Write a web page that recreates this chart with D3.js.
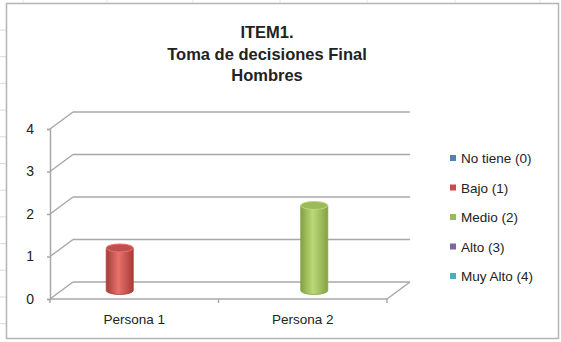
<!DOCTYPE html>
<html>
<head>
<meta charset="utf-8">
<script src="https://cdn.jsdelivr.net/npm/d3@7"></script>
<style>
  body { margin: 0; background: #fff; }
  text { font-family: "Liberation Sans", Arial, sans-serif; fill: #222; }
</style>
</head>
<body>
<div id="chart"></div>
<script>
// chart data
var categories = ["Persona 1", "Persona 2"];
var series = ["No tiene (0)", "Bajo (1)", "Medio (2)", "Alto (3)", "Muy Alto (4)"];
var persona1 = [0, 1, 0, 0, 0];
var persona2 = [0, 0, 2, 0, 0];
var yTicks = [0, 1, 2, 3, 4];
var titleLines = ["ITEM1.", "Toma de decisiones Final", "Hombres"];

var palette = ["#4F81BD", "#C0504D", "#9BBB59", "#8064A2", "#4BACC6"];
var light = ["#7fa6d8", "#e8716c", "#bcd97a", "#a58cc2", "#7fcbe0"];
var dark = ["#3a6496", "#a63c39", "#83a33f", "#654c85", "#3590a8"];

var svgWidth = 561;
var svgHeight = 342;

var svg = d3.select("#chart")
  .append("svg")
  .attr("width", svgWidth)
  .attr("height", svgHeight);

svg.append("rect")
  .attr("width", svgWidth)
  .attr("height", svgHeight)
  .attr("fill", "#fff");

// faint sheet cells around the chart frame
for (var gy = 30; gy < svgHeight; gy += 26.7) {
  svg.append("line")
    .attr("x1", 0).attr("x2", 6)
    .attr("y1", gy).attr("y2", gy)
    .attr("stroke", "#dadada");
}
[23, 107, 193, 280, 367, 455, 540].forEach(function(gx) {
  svg.append("line")
    .attr("x1", gx).attr("x2", gx)
    .attr("y1", 0).attr("y2", 3)
    .attr("stroke", "#e6e6e6");
});

// chart frame
svg.append("rect")
  .attr("x", 6.5).attr("y", 3.5)
  .attr("width", 552).attr("height", 335)
  .attr("fill", "#fff")
  .attr("stroke", "#b5b5b5")
  .attr("stroke-width", 1.5);

// title
svg.append("text")
  .attr("x", 267)
  .attr("y", 38)
  .attr("text-anchor", "middle")
  .style("font-size", "16.5px")
  .style("font-weight", "bold")
  .selectAll("tspan")
  .data(titleLines)
  .enter()
  .append("tspan")
  .attr("x", 267)
  .attr("dy", (d, i) => i === 0 ? 0 : 21.5)
  .text(d => d);

// 3D plot geometry: front plane and depth offset
var depthX = 23;
var depthY = -17;

var xScale = d3.scaleBand()
  .domain(categories)
  .range([50, 387]);

var xSeries = d3.scaleBand()
  .domain(series)
  .range([0, xScale.bandwidth()])
  .paddingInner(0)
  .paddingOuter(0.74);

var yScale = d3.scaleLinear()
  .domain([0, 4])
  .range([299, 129]);

var grid = svg.append("g")
  .attr("stroke", "#a8a8a8")
  .attr("stroke-width", 1.5)
  .attr("fill", "none");

// back wall gridlines
grid.selectAll(".back")
  .data(yTicks)
  .enter()
  .append("line")
  .attr("x1", 50 + depthX)
  .attr("x2", 387 + depthX)
  .attr("y1", d => yScale(d) + depthY)
  .attr("y2", d => yScale(d) + depthY);

// side wall gridlines
grid.selectAll(".side")
  .data(yTicks)
  .enter()
  .append("line")
  .attr("x1", 50)
  .attr("x2", 50 + depthX)
  .attr("y1", d => yScale(d))
  .attr("y2", d => yScale(d) + depthY);

// floor front edge and right edge
grid.append("line")
  .attr("x1", 50).attr("x2", 387)
  .attr("y1", yScale(0)).attr("y2", yScale(0));
grid.append("line")
  .attr("x1", 387).attr("x2", 387 + depthX)
  .attr("y1", yScale(0)).attr("y2", yScale(0) + depthY);

// category boundary ticks
var bounds = categories.map(c => xScale(c)).concat([xScale.range()[1]]);
grid.selectAll(".ctick")
  .data(bounds)
  .enter()
  .append("line")
  .attr("x1", d => d).attr("x2", d => d)
  .attr("y1", yScale(0)).attr("y2", yScale(0) + 4);

// value axis
var leftAxis = d3.axisLeft(yScale)
  .tickValues(yTicks)
  .tickFormat(d3.format("d"))
  .tickSize(3)
  .tickPadding(13);

var yAxisG = svg.append("g")
  .attr("transform", "translate(50,0)")
  .call(leftAxis);
yAxisG.select(".domain").attr("stroke", "#a8a8a8").attr("stroke-width", 1.5);
yAxisG.selectAll(".tick line").attr("stroke", "#a8a8a8").attr("stroke-width", 1.5);
yAxisG.selectAll(".tick text")
  .style("font-size", "14px")
  .style("font-family", "'Liberation Sans', Arial, sans-serif")
  .attr("fill", "#222");

// category axis labels
var bottomAxis = d3.axisBottom(xScale)
  .tickSize(0)
  .tickPadding(15);

var xAxisG = svg.append("g")
  .attr("transform", `translate(0, ${yScale(0)})`)
  .call(bottomAxis);
xAxisG.select(".domain").remove();
xAxisG.selectAll(".tick text")
  .style("font-size", "13.5px")
  .style("font-family", "'Liberation Sans', Arial, sans-serif")
  .attr("fill", "#222");

// gradients for cylinder bodies
var defs = svg.append("defs");
series.forEach(function(s, i) {
  var g = defs.append("linearGradient")
    .attr("id", "cyl" + i)
    .attr("x1", "0%").attr("x2", "100%")
    .attr("y1", "0%").attr("y2", "0%");
  g.append("stop").attr("offset", "0%").attr("stop-color", dark[i]);
  g.append("stop").attr("offset", "45%").attr("stop-color", light[i]);
  g.append("stop").attr("offset", "100%").attr("stop-color", dark[i]);
});

// flatten data to one mark per non-zero value
var values = [persona1, persona2];
var bars = [];
categories.forEach(function(c, ci) {
  series.forEach(function(s, si) {
    if (values[ci][si] > 0) {
      bars.push({ category: c, series: s, index: si, value: values[ci][si] });
    }
  });
});

var rx = xSeries.bandwidth() / 2 + 0.5;
var ry = 4;

var barGroups = svg.selectAll(".bar")
  .data(bars)
  .enter()
  .append("g")
  .attr("class", "bar")
  .attr("transform", d => {
    var cx = xScale(d.category) + xSeries(d.series) + xSeries.bandwidth() / 2 + depthX / 2;
    return `translate(${cx}, ${depthY / 2})`;
  });

// body with rounded base
barGroups.append("path")
  .attr("d", d => {
    var top = yScale(d.value);
    var base = yScale(0);
    return `M${-rx},${top} L${-rx},${base} A${rx},${ry} 0 0 0 ${rx},${base} L${rx},${top} Z`;
  })
  .attr("fill", d => `url(#cyl${d.index})`)
  .attr("stroke", d => dark[d.index])
  .attr("stroke-width", 0.8);

// top cap
barGroups.append("ellipse")
  .attr("cx", 0)
  .attr("cy", d => yScale(d.value))
  .attr("rx", rx)
  .attr("ry", ry)
  .attr("fill", d => palette[d.index])
  .attr("stroke", d => light[d.index])
  .attr("stroke-width", 1);

// legend
var legend = svg.selectAll(".legend")
  .data(series)
  .enter()
  .append("g")
  .attr("class", "legend")
  .attr("transform", (d, i) => `translate(450, ${158 + i * 29.5})`);

legend.append("rect")
  .attr("x", 0).attr("y", -3)
  .attr("width", 6).attr("height", 6)
  .attr("fill", (d, i) => palette[i]);

legend.append("text")
  .attr("x", 11)
  .attr("y", 5)
  .style("font-size", "13.5px")
  .text(d => d);
</script>
</body>
</html>
